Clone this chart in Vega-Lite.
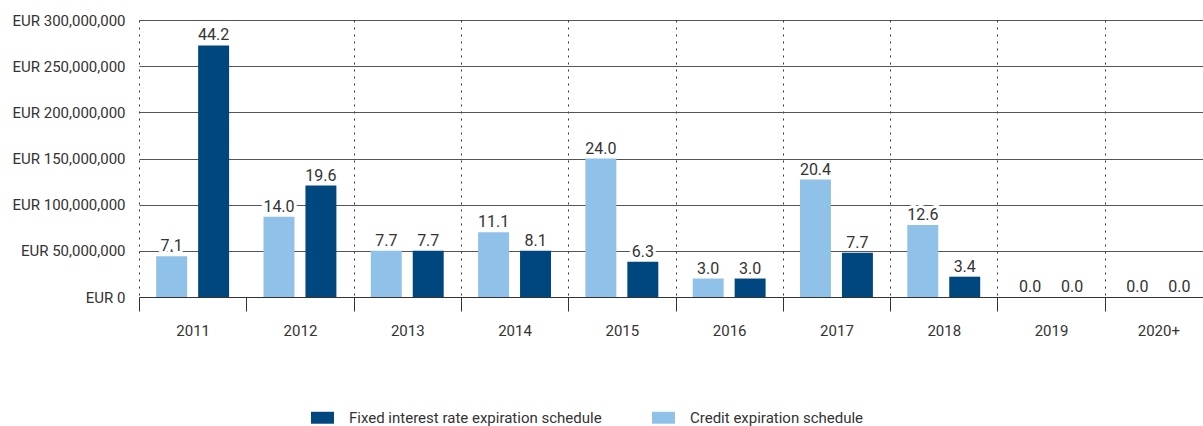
{
  "$schema": "https://vega.github.io/schema/vega-lite/v6.json",
  "width": 1073,
  "height": 277,
  "autosize": {"type": "none"},
  "padding": {"left": 139, "top": 20, "right": 0, "bottom": 129},
  "config": {
    "font": "Roboto",
    "view": {"stroke": null}
  },
  "data": {
    "values": [
      {"year": "2011", "series": "Credit expiration schedule", "amount": 44000000, "pct": 7.1},
      {"year": "2011", "series": "Fixed interest rate expiration schedule", "amount": 272500000, "pct": 44.2},
      {"year": "2012", "series": "Credit expiration schedule", "amount": 87000000, "pct": 14.0},
      {"year": "2012", "series": "Fixed interest rate expiration schedule", "amount": 120700000, "pct": 19.6},
      {"year": "2013", "series": "Credit expiration schedule", "amount": 50000000, "pct": 7.7},
      {"year": "2013", "series": "Fixed interest rate expiration schedule", "amount": 50000000, "pct": 7.7},
      {"year": "2014", "series": "Credit expiration schedule", "amount": 70000000, "pct": 11.1},
      {"year": "2014", "series": "Fixed interest rate expiration schedule", "amount": 50000000, "pct": 8.1},
      {"year": "2015", "series": "Credit expiration schedule", "amount": 150000000, "pct": 24.0},
      {"year": "2015", "series": "Fixed interest rate expiration schedule", "amount": 38300000, "pct": 6.3},
      {"year": "2016", "series": "Credit expiration schedule", "amount": 20000000, "pct": 3.0},
      {"year": "2016", "series": "Fixed interest rate expiration schedule", "amount": 20000000, "pct": 3.0},
      {"year": "2017", "series": "Credit expiration schedule", "amount": 127200000, "pct": 20.4},
      {"year": "2017", "series": "Fixed interest rate expiration schedule", "amount": 48000000, "pct": 7.7},
      {"year": "2018", "series": "Credit expiration schedule", "amount": 78000000, "pct": 12.6},
      {"year": "2018", "series": "Fixed interest rate expiration schedule", "amount": 22000000, "pct": 3.4},
      {"year": "2019", "series": "Credit expiration schedule", "amount": 0, "pct": 0.0},
      {"year": "2019", "series": "Fixed interest rate expiration schedule", "amount": 0, "pct": 0.0},
      {"year": "2020+", "series": "Credit expiration schedule", "amount": 0, "pct": 0.0},
      {"year": "2020+", "series": "Fixed interest rate expiration schedule", "amount": 0, "pct": 0.0}
    ]
  },
  "encoding": {
    "x": {
      "field": "year",
      "type": "nominal",
      "sort": null,
      "scale": {"paddingInner": 0, "paddingOuter": 0},
      "axis": {
        "title": null,
        "labelAngle": 0,
        "labelFontSize": 15,
        "labelColor": "#333333",
        "labelPadding": 12,
        "domainColor": "#333333",
        "domainWidth": 1,
        "tickColor": "#333333",
        "tickSize": 14,
        "tickBand": "extent",
        "grid": true,
        "gridColor": "#333333",
        "gridDash": [2, 5],
        "gridWidth": 1,
        "gridOpacity": {"condition": {"test": "datum.value === '2011'", "value": 0}, "value": 1}
      }
    },
    "xOffset": {
      "field": "series",
      "type": "nominal",
      "scale": {
        "domain": ["Credit expiration schedule", "Fixed interest rate expiration schedule"],
        "paddingInner": 0.262,
        "paddingOuter": 0.41
      }
    },
    "y": {
      "field": "amount",
      "type": "quantitative",
      "scale": {"domain": [0, 300000000]},
      "axis": {
        "title": null,
        "domain": false,
        "ticks": false,
        "values": [0, 50000000, 100000000, 150000000, 200000000, 250000000, 300000000],
        "labelExpr": "'EUR ' + format(datum.value, ',')",
        "labelFontSize": 15,
        "labelColor": "#333333",
        "labelPadding": 14,
        "grid": true,
        "gridColor": "#555555",
        "gridWidth": 1
      }
    }
  },
  "layer": [
    {
      "mark": {"type": "bar"},
      "encoding": {
        "color": {
          "field": "series",
          "type": "nominal",
          "scale": {
            "domain": ["Fixed interest rate expiration schedule", "Credit expiration schedule"],
            "range": ["#00467f", "#90c2e9"]
          },
          "legend": {
            "orient": "none",
            "legendX": 172,
            "legendY": 386,
            "direction": "horizontal",
            "title": null,
            "padding": 0,
            "symbolType": "M-1,-0.52H1V0.52H-1Z",
            "symbolSize": 529,
            "symbolStrokeWidth": 0,
            "symbolOpacity": 1,
            "labelFontSize": 15,
            "labelLimit": 0,
            "labelColor": "#333333",
            "labelOffset": 15,
            "columnPadding": 50
          }
        }
      }
    },
    {
      "mark": {"type": "text", "baseline": "alphabetic", "dy": -5, "fontSize": 16, "stroke": "white", "strokeWidth": 6, "fill": "white"},
      "encoding": {"text": {"field": "pct", "type": "quantitative", "format": ".1f"}}
    },
    {
      "mark": {"type": "text", "baseline": "alphabetic", "dy": -5, "fontSize": 16, "fill": "#333333"},
      "encoding": {"text": {"field": "pct", "type": "quantitative", "format": ".1f"}}
    }
  ]
}
